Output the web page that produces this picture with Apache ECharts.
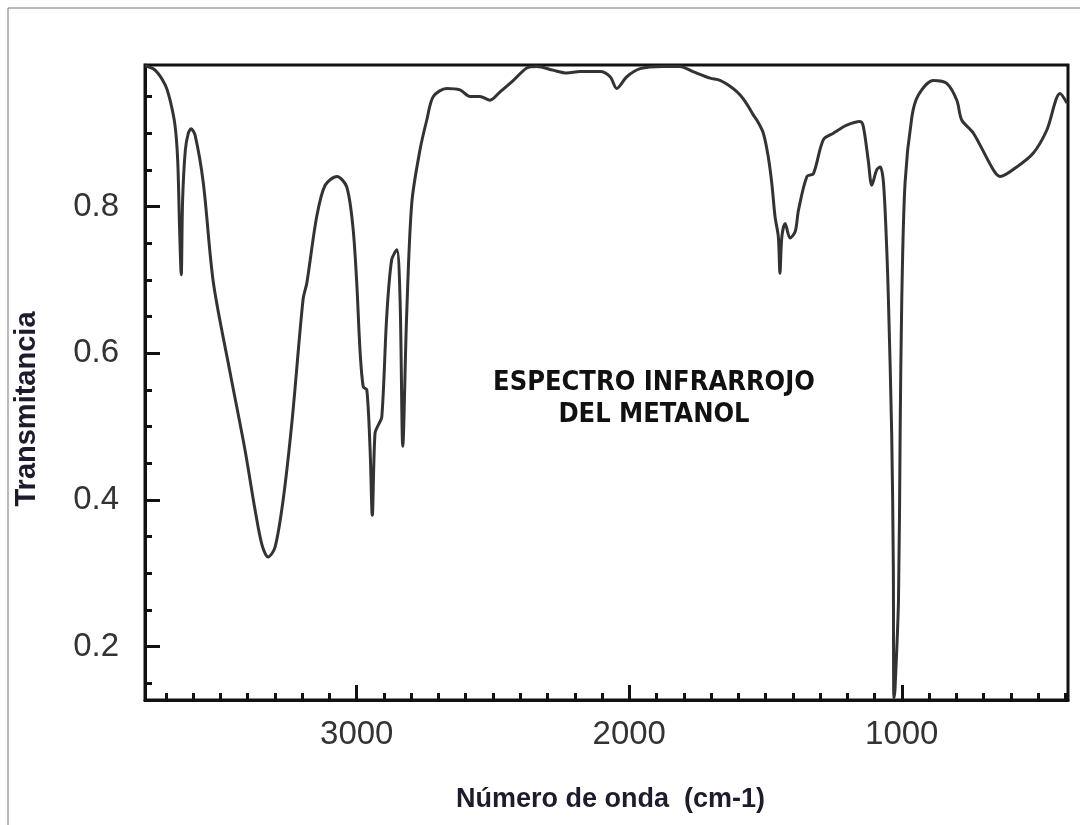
<!DOCTYPE html>
<html>
<head>
<meta charset="utf-8">
<title>Espectro infrarrojo del metanol</title>
<script src="https://cdn.jsdelivr.net/npm/echarts@6/dist/echarts.min.js"></script>
<style>
  html, body { margin: 0; padding: 0; background: #fff; }
  #chart { width: 1080px; height: 825px; }
</style>
</head>
<body>
<div id="chart"></div>
<script>
const wavenumbers = [
  3777, 3740, 3703, 3685, 3667, 3657, 3650, 3644, 3639, 3629, 3618, 3608, 3593, 3563, 3526,
  3465, 3410, 3373, 3348, 3325, 3300, 3270, 3237, 3197, 3183, 3147, 3116, 3073, 3037, 3014,
  3000, 2988, 2976, 2963, 2951, 2943, 2933, 2921, 2908, 2890, 2872, 2853, 2841, 2831, 2817,
  2798, 2768, 2743, 2719, 2670, 2621, 2584, 2548, 2511, 2475, 2425, 2376, 2339, 2280, 2229,
  2181, 2107, 2070, 2046, 2009, 1960, 1876, 1814, 1766, 1703, 1667, 1619, 1593, 1569, 1545,
  1532, 1508, 1490, 1477, 1465, 1453, 1447, 1440, 1428, 1410, 1391, 1379, 1348, 1324, 1288,
  1251, 1202, 1153, 1141, 1123, 1110, 1092, 1079, 1067, 1055, 1049, 1037, 1031, 1029, 1025,
  1012, 1006, 1000, 988, 963, 939, 884, 835, 798, 780, 737, 664, 639, 578, 517, 468, 419, 394
];
// transmitancia
const transmittance = [
  0.992, 0.986, 0.966, 0.945, 0.911, 0.863, 0.768, 0.707, 0.809, 0.877, 0.900, 0.906, 0.897, 0.832, 0.696,
  0.574, 0.468, 0.386, 0.339, 0.322, 0.335, 0.400, 0.509, 0.673, 0.696, 0.786, 0.829, 0.841, 0.827, 0.772,
  0.696, 0.604, 0.554, 0.550, 0.468, 0.379, 0.491, 0.502, 0.513, 0.650, 0.727, 0.741, 0.673, 0.473, 0.650,
  0.805, 0.877, 0.918, 0.950, 0.961, 0.959, 0.950, 0.950, 0.945, 0.956, 0.972, 0.989, 0.991, 0.986, 0.982,
  0.984, 0.984, 0.977, 0.961, 0.977, 0.988, 0.991, 0.991, 0.984, 0.975, 0.972, 0.961, 0.952, 0.940, 0.925,
  0.918, 0.900, 0.868, 0.832, 0.786, 0.759, 0.709, 0.759, 0.777, 0.757, 0.766, 0.795, 0.841, 0.845, 0.891,
  0.900, 0.911, 0.916, 0.909, 0.863, 0.829, 0.850, 0.854, 0.832, 0.741, 0.673, 0.491, 0.309, 0.130, 0.141,
  0.264, 0.491, 0.673, 0.832, 0.922, 0.952, 0.972, 0.968, 0.945, 0.918, 0.900, 0.850, 0.841, 0.854, 0.873, 0.904, 0.954, 0.941
];

// marcas de los ejes
const xMajorTicks = [1000, 2000, 3000];
const xMinorTicks = [400, 500, 600, 700, 800, 900, 1000, 1100, 1200, 1300, 1400, 1500, 1600, 1700, 1800, 1900,
  2000, 2100, 2200, 2300, 2400, 2500, 2600, 2700, 2800, 2900, 3000, 3100, 3200, 3300, 3400, 3500, 3600, 3700];
const yMajorTicks = [0.2, 0.4, 0.6, 0.8];
const yMinorTicks = [0.15, 0.2, 0.25, 0.3, 0.35, 0.4, 0.45, 0.5, 0.55, 0.6, 0.65, 0.7, 0.75, 0.8, 0.85, 0.9, 0.95];

const chart = echarts.init(document.getElementById('chart'));

const xRange = { min: 390, max: 3777 };
const yRange = { min: 0.127, max: 0.993 };
const lineColor = '#111';
const labelStyle = { fontFamily: 'Liberation Sans, Arial, sans-serif', fontSize: 33, color: '#333' };

const option = {
  backgroundColor: '#fff',
  animation: false,
  title: {
    text: 'ESPECTRO INFRARROJO\nDEL METANOL',
    left: 649,
    top: 362,
    textAlign: 'center',
    textStyle: {
      fontFamily: 'Liberation Sans Narrow, DejaVu Sans Condensed, sans-serif',
      fontWeight: 'bold',
      fontSize: 27,
      lineHeight: 32,
      color: '#111'
    }
  },
  graphic: [
    // marco exterior fino
    { type: 'line', shape: { x1: 8, y1: 8, x2: 1080, y2: 8 }, style: { stroke: '#777', lineWidth: 1 } },
    { type: 'line', shape: { x1: 8, y1: 8, x2: 8, y2: 825 }, style: { stroke: '#777', lineWidth: 1 } },
    // título del eje y
    {
      type: 'text',
      x: 27,
      y: 409,
      rotation: Math.PI / 2,
      style: {
        text: 'Transmitancia',
        align: 'center',
        verticalAlign: 'middle',
        font: 'bold 29px "Liberation Sans", Arial, sans-serif',
        fill: '#1c1c2c'
      }
    }
  ],
  grid: {
    left: 145,
    right: 12,
    top: 65,
    bottom: 125,
    show: true,
    borderColor: lineColor,
    borderWidth: 3,
    backgroundColor: 'transparent'
  },
  xAxis: [
    {
      type: 'value',
      inverse: true,
      min: xRange.min,
      max: xRange.max,
      position: 'bottom',
      splitLine: { show: false },
      axisLine: { show: true, onZero: false, lineStyle: { color: lineColor, width: 3 } },
      axisTick: { inside: true, length: 15, customValues: xMajorTicks, lineStyle: { color: lineColor, width: 3 } },
      axisLabel: Object.assign({ customValues: xMajorTicks, margin: 18, formatter: v => String(v) }, labelStyle),
      name: 'Número de onda  (cm-1)',
      nameLocation: 'middle',
      nameGap: 86,
      nameTextStyle: { fontFamily: 'Liberation Sans, Arial, sans-serif', fontWeight: 'bold', fontSize: 27, color: '#1c1c2c', padding: [0, 0, 0, 8] }
    },
    {
      type: 'value',
      inverse: true,
      min: xRange.min,
      max: xRange.max,
      position: 'bottom',
      splitLine: { show: false },
      axisLine: { show: false },
      axisTick: { inside: true, length: 7, customValues: xMinorTicks, lineStyle: { color: lineColor, width: 3 } },
      axisLabel: { show: false }
    }
  ],
  yAxis: [
    {
      type: 'value',
      min: yRange.min,
      max: yRange.max,
      position: 'left',
      splitLine: { show: false },
      axisLine: { show: true, onZero: false, lineStyle: { color: lineColor, width: 3 } },
      axisTick: { inside: true, length: 15, customValues: yMajorTicks, lineStyle: { color: lineColor, width: 3 } },
      axisLabel: Object.assign({ customValues: yMajorTicks, margin: 26, formatter: v => v.toFixed(1) }, labelStyle)
    },
    {
      type: 'value',
      min: yRange.min,
      max: yRange.max,
      position: 'left',
      splitLine: { show: false },
      axisLine: { show: false },
      axisTick: { inside: true, length: 7, customValues: yMinorTicks, lineStyle: { color: lineColor, width: 3 } },
      axisLabel: { show: false }
    }
  ],
  series: [
    {
      name: 'Metanol',
      type: 'line',
      xAxisIndex: 0,
      yAxisIndex: 0,
      data: wavenumbers.map((w, i) => [w, transmittance[i]]),
      showSymbol: false,
      smooth: 0.3,
      lineStyle: { color: '#333', width: 3 },
      z: 1
    }
  ]
};

chart.setOption(option);
</script>
</body>
</html>
